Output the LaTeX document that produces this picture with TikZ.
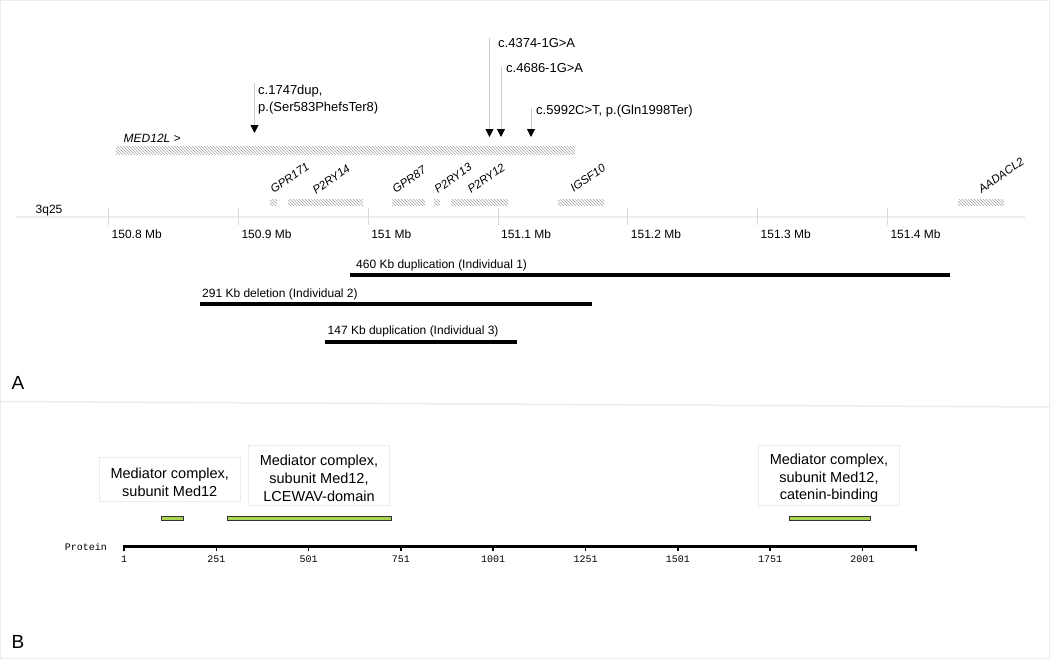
\documentclass[tikz,border=0pt]{standalone}
\usepackage{fontspec}
\setmainfont{Liberation Sans}
\newfontfamily\protfont{Liberation Mono}
\usepackage{tikz}
\usetikzlibrary{arrows.meta, patterns, positioning, shapes.geometric}
\definecolor{DomGreen}{RGB}{172,212,84}
\definecolor{FrameGray}{RGB}{236,236,236}
\definecolor{HatchGray}{RGB}{165,165,165}
\definecolor{LeadGray}{RGB}{200,200,200}
\newcommand{\boxstrut}{\rule{0pt}{17pt}}

\begin{document}
\begin{tikzpicture}[x=1pt, y=-1pt,
    genebar/.style={fill=gray!15, pattern=north west lines, pattern color=HatchGray},
    genelabel/.style={rotate=35, anchor=south west, inner sep=0pt, font=\fontsize{11.5}{13}\selectfont\itshape},
    mutline/.style={LeadGray, line width=0.9pt, -{Triangle[width=8pt, length=8pt, color=black]}},
    mutlabel/.style={inner sep=0pt, font=\fontsize{13}{17}\selectfont, align=left},
    axislabel/.style={anchor=base west, inner sep=0pt, font=\fontsize{12}{14}\selectfont},
    cnvbar/.style={line width=4pt, black},
    domainbar/.style={fill=DomGreen, draw=black!80, line width=0.8pt},
    domainbox/.style={draw=FrameGray, line width=0.8pt, align=center, inner sep=0pt, font=\fontsize{14.5}{17.6}\selectfont},
    protlabel/.style={anchor=base, inner sep=0pt, font=\protfont\fontsize{10}{12}\selectfont}]

    % Rahmen und Trennlinie
    \useasboundingbox (0,0) rectangle (1050,659);
    \draw[FrameGray, line width=1pt] (0.5,0.5) rectangle (1049.5,658);
    \draw[FrameGray, line width=1.5pt] (0,401.5) -- (1050,407);

    % Panel A: Gen-Spur
    \fill[genebar] (116,146) rectangle (575,154);
    \node[anchor=base west, inner sep=0pt, font=\fontsize{12}{14}\selectfont\itshape] (med12l) at (123.5,142) {MED12L >};

    % Mutationen
    \node[mutlabel, anchor=north west] (mut1) at (258,85) {c.1747dup,\\p.(Ser583PhefsTer8)};
    \node[mutlabel, anchor=base west] (mut2) at (498,47.3) {c.4374-1G>A};
    \node[mutlabel, anchor=base west] (mut3) at (506,72.7) {c.4686-1G>A};
    \node[mutlabel, anchor=base west] (mut4) at (536,114.7) {c.5992C>T, p.(Gln1998Ter)};
    \coordinate (m1top) at (254.5,83);   \coordinate (m1tip) at (254.5,133);
    \coordinate (m2top) at (489.5,38);   \coordinate (m2tip) at (489.5,137);
    \coordinate (m3top) at (501,67);     \coordinate (m3tip) at (501,137);
    \coordinate (m4top) at (531,108);    \coordinate (m4tip) at (531,137);
    \foreach \m in {1,2,3,4}
        \draw[mutline] (m\m top) -- (m\m tip);

    % Nachbargene
    \fill[genebar] (270,199) rectangle (277,205);
    \fill[genebar] (288,199) rectangle (363,205);
    \fill[genebar] (392,199) rectangle (425,205);
    \fill[genebar] (434,199) rectangle (440,205);
    \fill[genebar] (451,199) rectangle (508,205);
    \fill[genebar] (558,199) rectangle (604,205);
    \fill[genebar] (958,199) rectangle (1004,205);
    \node[genelabel] (gpr171) at (274,194) {GPR171};
    \node[genelabel] (p2ry14) at (316,195) {P2RY14};
    \node[genelabel] (gpr87)  at (396,194) {GPR87};
    \node[genelabel] (p2ry13) at (438,194) {P2RY13};
    \node[genelabel] (p2ry12) at (471,194) {P2RY12};
    \node[genelabel] (igsf10) at (574,193) {IGSF10};
    \node[genelabel] (aadacl2) at (982,194) {AADACL2};

    % Achse 3q25
    \draw[FrameGray, line width=2pt] (16,216.5) -- (1025,216.5);
    \node[axislabel] (band) at (35.5,213.3) {3q25};
    \foreach \lab [count=\i from 0] in {150.8,150.9,151,151.1,151.2,151.3,151.4} {
        \draw[gray!30, line width=0.8pt] (108.5+\i*129.8,208) -- (108.5+\i*129.8,225);
        \node[axislabel] (mb\i) at (111.5+\i*129.8,238.5) {\lab\ Mb};
    }

    % CNVs
    \draw[cnvbar] (350,274.7) -- (950,274.7);
    \node[axislabel] (cnv1) at (356,268.3) {460 Kb duplication (Individual 1)};
    \draw[cnvbar] (200,304.3) -- (592,304.3);
    \node[axislabel] (cnv2) at (202,297.3) {291 Kb deletion (Individual 2)};
    \draw[cnvbar] (325,342) -- (517,342);
    \node[axislabel] (cnv3) at (327.5,334.3) {147 Kb duplication (Individual 3)};

    \node[anchor=base west, inner sep=0pt, font=\fontsize{19}{22}\selectfont] (panelA) at (11.5,389) {A};

    % Panel B: Protein
    \node[anchor=base east, inner sep=0pt, font=\protfont\fontsize{10}{12}\selectfont] (prot) at (107,550) {Protein};
    \draw[black, line width=3pt] (123.7,546.7) -- (916.5,546.7);
    \foreach \aa in {1,251,501,751,1001,1251,1501,1751,2001} {
        \draw[black, line width=1.6pt] (124+\aa*0.3692-0.3692,545) -- (124+\aa*0.3692-0.3692,551);
        \node[protlabel] (aa\aa) at (124+\aa*0.3692-0.3692,562.7) {\aa};
    }
    \draw[black, line width=1.6pt] (915.7,545) -- (915.7,551);

    % Domaenen
    \draw[domainbar] (161,516) rectangle (183.4,520.5);
    \draw[domainbar] (227.5,516) rectangle (391.7,520.5);
    \draw[domainbar] (789,516) rectangle (870,520.5);
    \node[domainbox, minimum width=140.5pt, minimum height=43.3pt] (dom1) at (169.75,479.35) {\boxstrut Mediator complex,\\subunit Med12};
    \node[domainbox, minimum width=141.3pt, minimum height=60pt] (dom2) at (319,475) {\boxstrut Mediator complex,\\subunit Med12,\\LCEWAV-domain};
    \node[domainbox, minimum width=141.3pt, minimum height=60pt] (dom3) at (829,475) {\boxstrut Mediator complex,\\subunit Med12,\\catenin-binding};

    \node[anchor=base west, inner sep=0pt, font=\fontsize{19}{22}\selectfont] (panelB) at (11.5,648) {B};
\end{tikzpicture}
\end{document}
